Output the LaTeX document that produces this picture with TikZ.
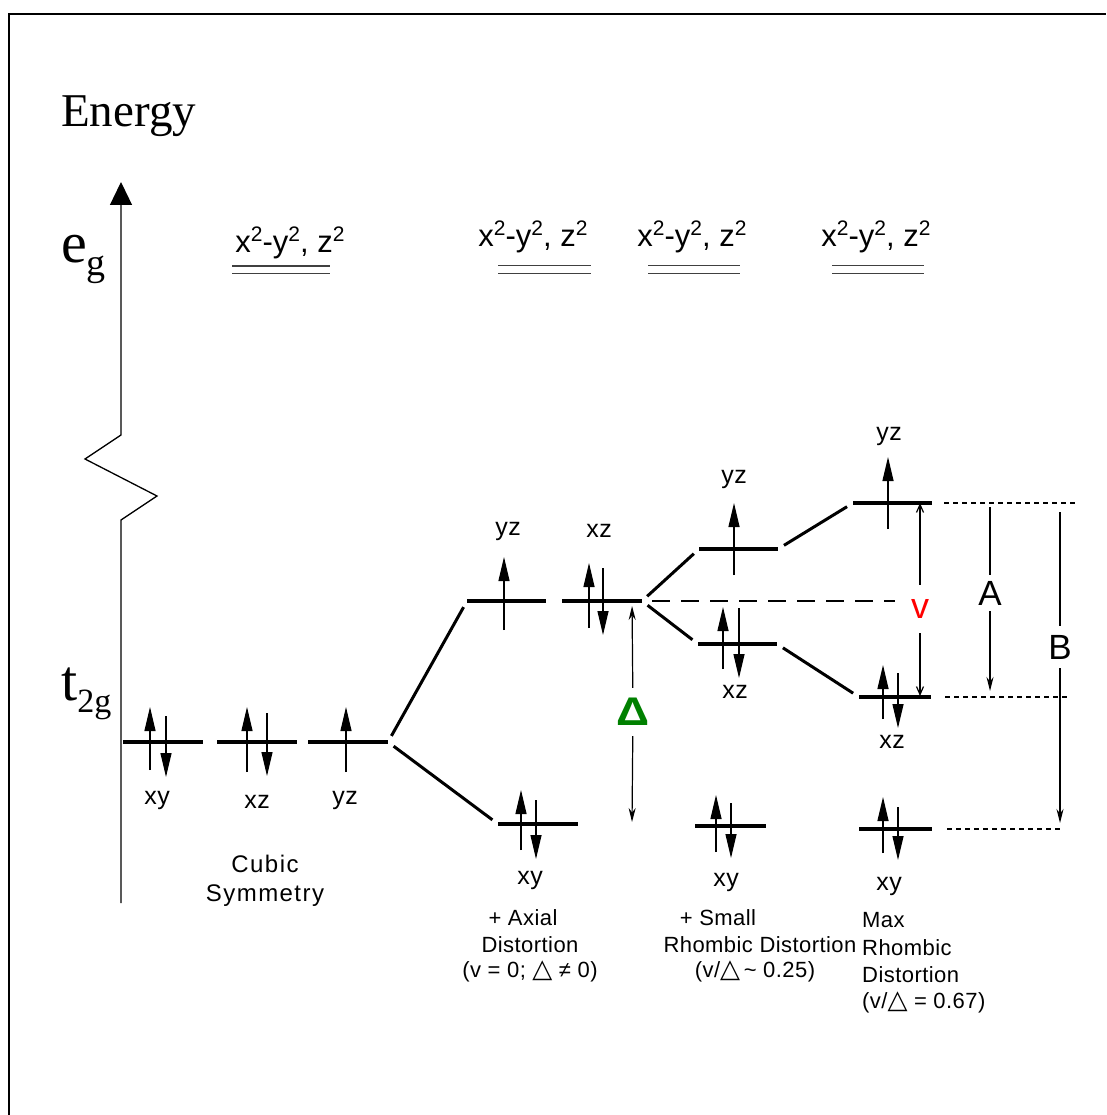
\documentclass[tikz,border=0pt]{standalone}
\usepackage{fontspec}
\setmainfont{Liberation Serif}
\newfontfamily\arialf{Liberation Sans}
\newfontfamily\arialsp[LetterSpace=2]{Liberation Sans}
\newfontfamily\arialwd[LetterSpace=6]{Liberation Sans}
\newfontfamily\djv{DejaVu Sans}
\usetikzlibrary{arrows.meta}
\definecolor{dgreen}{RGB}{0,128,0}
\definecolor{vred}{RGB}{255,0,0}
\newcommand\supt{\raisebox{11pt}{\fontsize{21}{21}\selectfont 2}}
\newcommand\tri{{\djv\fontsize{26}{26}\selectfont △}}
\tikzset{
 lvl/.style={line width=3.5pt},
 conn/.style={line width=3pt, shorten <=7pt, shorten >=7pt},
 el/.style={line width=1.2pt,-{Triangle[length=24pt,width=11pt]}},
 dl/.style={line width=1.6pt, black!75},
 dimln/.style={line width=1.2pt},
 dimtip/.style={dimln,-{Stealth[length=14pt,width=7pt]}},
 vtip/.style={dimln,-{Straight Barb[length=8pt,width=7pt]}},
 dotln/.style={line width=1.2pt, dash pattern=on 5pt off 4pt},
 dshln/.style={line width=1.2pt, dash pattern=on 18pt off 11pt},
 orb/.style={font=\arialsp\fontsize{25}{25}\selectfont, inner sep=0pt},
 capt/.style={font=\arialsp\fontsize{22}{27}\selectfont, inner sep=0pt},
 eglab/.style={font=\arialf\fontsize{31}{31}\selectfont, inner sep=0pt},
 big/.style={font=\arialf\fontsize{35}{35}\selectfont, inner sep=0pt},
}
\begin{document}
\begin{tikzpicture}[x=1pt,y=-1pt]
\useasboundingbox (0,0) rectangle (1106,1115);
% frame
\draw[line width=2.5pt] (9,1115) -- (9,14) -- (1106,14);

% energy axis
\node[anchor=base west, inner sep=0pt, font=\fontsize{47}{47}\selectfont] (energy) at (61,127) {Energy};
\coordinate (axBot) at (121,903);
\coordinate (axTop) at (121,182);
\draw[line width=1.3pt,-{Triangle[length=23pt,width=22pt]}] (axBot) -- (121,520) -- (157,496) -- (85,459) -- (121,435) -- (axTop);
\node[anchor=base west, inner sep=0pt, font=\fontsize{58}{58}\selectfont] (eg) at (61,262) {e\raisebox{-13pt}{\fontsize{38}{38}\selectfont g}};
\node[anchor=base west, inner sep=0pt, font=\fontsize{58}{58}\selectfont] (tg) at (61,700) {t\raisebox{-12pt}{\fontsize{34}{34}\selectfont 2g}};

% e_g levels
\node[eglab] (eg1) at (290,243) {x\supt-y\supt, z\supt};
\node[eglab] (eg2) at (533,237) {x\supt-y\supt, z\supt};
\node[eglab] (eg3) at (692,237) {x\supt-y\supt, z\supt};
\node[eglab] (eg4) at (876,237) {x\supt-y\supt, z\supt};
\draw[dl] (232,266) -- (330,266); \draw[dl] (232,273.5) -- (330,273.5);
\draw[dl] (498,265.5) -- (591,265.5); \draw[dl] (498,273.5) -- (591,273.5);
\draw[dl] (648,265.5) -- (740,265.5); \draw[dl] (648,273.5) -- (740,273.5);
\draw[dl] (832,265.5) -- (924,265.5); \draw[dl] (832,273.5) -- (924,273.5);

% level end points
\coordinate (c1L) at (123,742); \coordinate (c1R) at (203,742);
\coordinate (c2L) at (217,742); \coordinate (c2R) at (297,742);
\coordinate (c3L) at (308,742); \coordinate (c3R) at (388,742);
\coordinate (ayzL) at (467,601); \coordinate (ayzR) at (546,601);
\coordinate (axzL) at (562,601); \coordinate (axzR) at (642,601);
\coordinate (axyL) at (498,824); \coordinate (axyR) at (578,824);
\coordinate (syzL) at (699,549); \coordinate (syzR) at (778,549);
\coordinate (sxzL) at (698,644); \coordinate (sxzR) at (777,644);
\coordinate (sxyL) at (695,826); \coordinate (sxyR) at (766,826);
\coordinate (myzL) at (853,503); \coordinate (myzR) at (932,503);
\coordinate (mxzL) at (859,697); \coordinate (mxzR) at (931,697);
\coordinate (mxyL) at (859,829); \coordinate (mxyR) at (932,829);

\foreach \a in {c1,c2,c3,ayz,axz,axy,syz,sxz,sxy,myz,mxz,mxy}
  \draw[lvl] (\a L) -- (\a R);

% correlation lines
\draw[conn] (c3R) -- (ayzL);
\draw[conn] (c3R) -- (axyL);
\draw[conn] (axzR) -- (syzL);
\draw[conn] (axzR) -- (sxzL);
\draw[conn] (syzR) -- (myzL);
\draw[conn] (sxzR) -- (mxzL);

% electrons: cubic
\draw[el] (150,770) -- (150,707); \draw[el] (166,716) -- (166,777);
\draw[el] (247,772) -- (247,707); \draw[el] (267,713) -- (267,776);
\draw[el] (346,772) -- (346,707);
% axial
\draw[el] (504,630) -- (504,557);
\draw[el] (589,628) -- (589,563); \draw[el] (603,568) -- (603,635);
\draw[el] (521,850) -- (521,790); \draw[el] (536,800) -- (536,859);
% small rhombic
\draw[el] (734,575) -- (734,503);
\draw[el] (723,669) -- (723,607); \draw[el] (739,608) -- (739,678);
\draw[el] (716,852) -- (716,795); \draw[el] (731,803) -- (731,858);
% max rhombic
\draw[el] (888,529) -- (888,457);
\draw[el] (883,719) -- (883,665); \draw[el] (898,673) -- (898,728);
\draw[el] (883,853) -- (883,797); \draw[el] (898,807) -- (898,860);

% orbital labels
\node[orb] (l1) at (157,800) {xy};
\node[orb] (l2) at (257,802) {xz};
\node[orb] (l3) at (345,800) {yz};
\node[orb] (l4) at (508,531) {yz};
\node[orb] (l5) at (599,531) {xz};
\node[orb] (l6) at (530,880) {xy};
\node[orb] (l7) at (734,479) {yz};
\node[orb] (l8) at (735,692) {xz};
\node[orb] (l9) at (726,882) {xy};
\node[orb] (l10) at (889,436) {yz};
\node[orb] (l11) at (892,742) {xz};
\node[orb] (l12) at (889,886) {xy};

% captions
\node[capt, align=center, font=\arialwd\fontsize{24}{29}\selectfont] (capC) at (265,881) {Cubic\\Symmetry};
\node[capt] (ca1) at (523,918) {+ Axial};
\node[capt] (ca2) at (530,945) {Distortion};
\node[capt] (ca3) at (530,971) {(v = 0; \tri\ ≠ 0)};
\node[capt] (cs1) at (718,918) {+ Small};
\node[capt] (cs2) at (760,945) {Rhombic Distortion};
\node[capt] (cs3) at (755,971) {(v/\tri\,\textasciitilde\ 0.25)};
\node[capt, anchor=west] (cm1) at (862,920) {Max};
\node[capt, anchor=west] (cm2) at (862,948) {Rhombic};
\node[capt, anchor=west] (cm3) at (862,975) {Distortion};
\node[capt, anchor=west] (cm4) at (862,1002) {(v/\tri\ = 0.67)};

% Delta
\coordinate (dTop) at (632,601);
\coordinate (dBot) at (632,824);
\node[inner sep=0pt, minimum height=48pt, text=dgreen, font=\arialf\bfseries\fontsize{40}{40}\selectfont] (dlt) at (633,712) {\scalebox{1.15}[1]{Δ}};
\draw[dimtip, shorten >=5pt] (dlt) -- (dTop);
\draw[dimtip, shorten >=2pt] (dlt) -- (dBot);

% dashed reference
\coordinate (dshE) at (895,601);
\draw[dshln, shorten <=10pt] (axzR) -- (dshE);

% v
\coordinate (vT) at (920,503);
\coordinate (vB) at (920,697);
\node[inner sep=0pt, minimum height=48pt, text=vred, font=\arialf\fontsize{36}{36}\selectfont] (vl) at (920,609) {v};
\draw[vtip] (vl) -- (vT);
\draw[vtip, shorten >=1pt] (vl) -- (vB);

% dotted extensions
\coordinate (e1) at (1075,503);
\coordinate (e2) at (1068,697);
\coordinate (e3) at (1062,829);
\draw[dotln, shorten <=12pt] (myzR) -- (e1);
\draw[dotln, shorten <=14pt] (mxzR) -- (e2);
\draw[dotln, shorten <=15pt] (mxyR) -- (e3);

% A and B
\coordinate (aT) at (990,503);
\coordinate (aB) at (990,697);
\coordinate (bT) at (1060,503);
\coordinate (bB) at (1060,829);
\node[big, minimum height=36pt] (Al) at (990,593) {A};
\node[big, minimum height=42pt] (Bl) at (1060,647) {B};
\draw[dimln, shorten >=4pt] (Al) -- (aT);
\draw[dimtip, shorten >=6pt] (Al) -- (aB);
\draw[dimln, shorten >=9pt] (Bl) -- (bT);
\draw[dimtip, shorten >=6pt] (Bl) -- (bB);
\end{tikzpicture}
\end{document}
